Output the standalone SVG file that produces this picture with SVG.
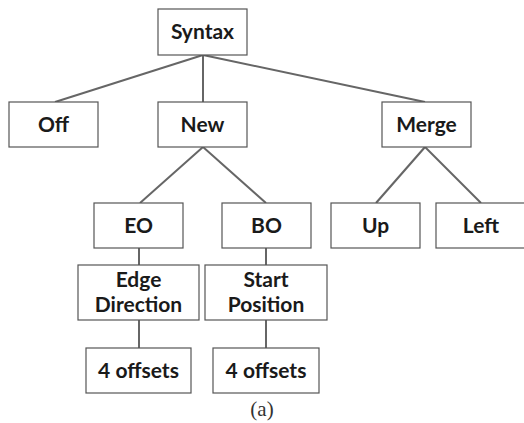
<svg xmlns="http://www.w3.org/2000/svg" width="524" height="423" viewBox="0 0 524 423">
  <style>
    .box { fill: #ffffff; stroke: #555555; stroke-width: 1.2; }
    .lbl { font-family: Lato, "Open Sans", sans-serif; font-weight: 700; font-size: 21px; fill: #1a1a1a; text-anchor: middle; }
    .edge { stroke: #666666; stroke-width: 2; fill: none; }
    .cap { font-family: "Liberation Serif", "DejaVu Serif", serif; font-size: 21px; fill: #333333; text-anchor: middle; }
  </style>
  <rect width="524" height="423" fill="#ffffff"/>

  <!-- tree edges -->
  <g id="connectors">
    <line class="edge" x1="203" y1="55" x2="55" y2="102"/>
    <line class="edge" x1="203" y1="55" x2="203" y2="102"/>
    <line class="edge" x1="203" y1="55" x2="425" y2="102"/>
    <line class="edge" x1="203" y1="147" x2="140" y2="203"/>
    <line class="edge" x1="203" y1="147" x2="266" y2="203"/>
    <line class="edge" x1="425" y1="147" x2="376" y2="203"/>
    <line class="edge" x1="425" y1="147" x2="481" y2="203"/>
    <line class="edge" x1="139" y1="248" x2="139" y2="265"/>
    <line class="edge" x1="139" y1="320" x2="139" y2="348"/>
    <line class="edge" x1="266" y1="248" x2="266" y2="265"/>
    <line class="edge" x1="266" y1="320" x2="266" y2="348"/>
  </g>

  <g id="syntax">
    <rect class="box" x="158" y="9" width="89" height="46"/>
    <text class="lbl" x="202.5" y="39">Syntax</text>
  </g>
  <g id="off">
    <rect class="box" x="9" y="102" width="89" height="45"/>
    <text class="lbl" x="53.5" y="132">Off</text>
  </g>
  <g id="new">
    <rect class="box" x="158" y="102" width="89" height="45"/>
    <text class="lbl" x="202.5" y="132">New</text>
  </g>
  <g id="merge">
    <rect class="box" x="382" y="102" width="89" height="45"/>
    <text class="lbl" x="426.5" y="132">Merge</text>
  </g>
  <g id="eo">
    <rect class="box" x="94" y="203" width="89" height="45"/>
    <text class="lbl" x="138.5" y="233">EO</text>
  </g>
  <g id="bo">
    <rect class="box" x="222" y="203" width="89" height="45"/>
    <text class="lbl" x="266.5" y="233">BO</text>
  </g>
  <g id="up">
    <rect class="box" x="331" y="203" width="89" height="45"/>
    <text class="lbl" x="375.5" y="233">Up</text>
  </g>
  <g id="left">
    <rect class="box" x="436" y="203" width="89" height="45"/>
    <text class="lbl" x="481" y="233">Left</text>
  </g>
  <g id="edge-direction">
    <rect class="box" x="78" y="265" width="121" height="55"/>
    <text class="lbl" x="138.5" y="286.5">Edge</text>
    <text class="lbl" x="138.5" y="311.5">Direction</text>
  </g>
  <g id="start-position">
    <rect class="box" x="205" y="265" width="122" height="55"/>
    <text class="lbl" x="266" y="286.5">Start</text>
    <text class="lbl" x="266" y="311.5">Position</text>
  </g>
  <g id="offsets-eo">
    <rect class="box" x="86" y="348" width="105" height="45"/>
    <text class="lbl" x="138.5" y="378">4 offsets</text>
  </g>
  <g id="offsets-bo">
    <rect class="box" x="213" y="348" width="106" height="45"/>
    <text class="lbl" x="266" y="378">4 offsets</text>
  </g>

  <text class="cap" x="262" y="416">(a)</text>
</svg>
